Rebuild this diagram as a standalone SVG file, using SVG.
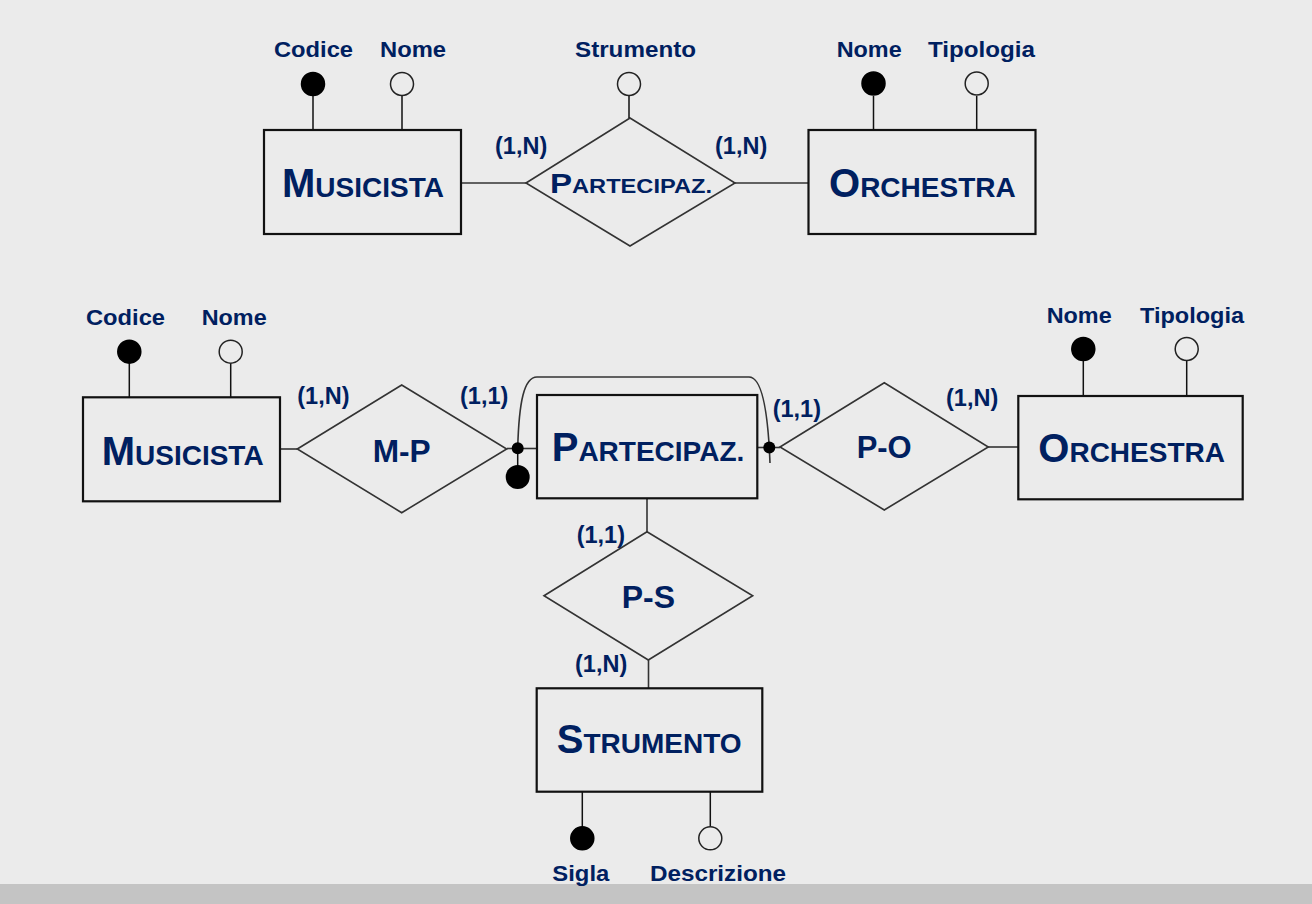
<svg xmlns="http://www.w3.org/2000/svg" width="1312" height="904" viewBox="0 0 1312 904">
<style>
.ent{fill:none;stroke:#111;stroke-width:2.2}
.rel{fill:none;stroke:#333;stroke-width:1.6}
.ln{stroke:#333;stroke-width:1.6;fill:none}
.stem{stroke:#111;stroke-width:1.5}
.key{fill:#000;stroke:#000;stroke-width:1.5}
.att{fill:none;stroke:#222;stroke-width:1.5}
text{font-family:"Liberation Sans",Arial,sans-serif;font-weight:bold;fill:#002060}
.lbl{font-size:22px}
.card{font-size:23.5px}
.ename{font-size:40px}
.sc{font-size:28px}
.rname{font-size:31px}
</style>
<rect x="0" y="0" width="1312" height="904" fill="#ebebeb"/>
<rect x="0" y="884" width="1312" height="20" fill="#c4c4c4"/>

<g id="connectors">
<line class="ln" x1="461" y1="183" x2="526" y2="183"/>
<line class="ln" x1="735" y1="183" x2="809" y2="183"/>
<line class="ln" x1="280" y1="449" x2="297" y2="449"/>
<line class="ln" x1="507" y1="448.5" x2="537" y2="448.5"/>
<line class="ln" x1="757" y1="447.5" x2="780" y2="447.5"/>
<line class="ln" x1="988" y1="447" x2="1018" y2="447"/>
<line class="ln" x1="647" y1="498" x2="647" y2="532"/>
<line class="ln" x1="648.5" y1="660" x2="648.5" y2="688"/>
<path class="ln" d="M517.7 448 C519 402 524 377 537 377 L749 377 C762 377 768 410 770 463"/>
<line class="stem" x1="517.7" y1="448" x2="517.7" y2="470"/>
<circle cx="517.7" cy="448.3" r="6" fill="#000"/>
<circle cx="517.7" cy="477" r="12" fill="#000"/>
<circle cx="769.3" cy="447.5" r="6" fill="#000"/>
<text class="card" x="495" y="154">(1,N)</text>
<text class="card" x="715" y="154">(1,N)</text>
<text class="card" x="297.3" y="404.3">(1,N)</text>
<text class="card" x="460" y="404.3">(1,1)</text>
<text class="card" x="772.7" y="416.7">(1,1)</text>
<text class="card" x="946" y="405.7">(1,N)</text>
<text class="card" x="576.7" y="543.3">(1,1)</text>
<text class="card" x="575" y="671.7">(1,N)</text>
</g>

<g id="musicista1">
<rect class="ent" x="264" y="130" width="197" height="104"/>
<line class="stem" x1="313" y1="96" x2="313" y2="130"/>
<line class="stem" x1="402" y1="96" x2="402" y2="130"/>
<circle class="key" cx="313" cy="84" r="11.5"/>
<circle class="att" cx="402" cy="84" r="11.5"/>
<text class="lbl" x="274" y="57" textLength="79" lengthAdjust="spacingAndGlyphs">Codice</text>
<text class="lbl" x="380" y="57" textLength="66" lengthAdjust="spacingAndGlyphs">Nome</text>
<text x="282" y="197"><tspan class="ename">M</tspan><tspan class="sc">USICISTA</tspan></text>
</g>

<g id="partecipaz1">
<polygon class="rel" points="526,183 630,118 735,183 630,246"/>
<line class="stem" x1="629" y1="96" x2="629" y2="118"/>
<circle class="att" cx="629" cy="84" r="11.5"/>
<text class="lbl" x="575" y="57" textLength="121" lengthAdjust="spacingAndGlyphs">Strumento</text>
<text x="550" y="193.3" textLength="162" lengthAdjust="spacingAndGlyphs"><tspan font-size="28px">P</tspan><tspan font-size="20px">ARTECIPAZ.</tspan></text>
</g>

<g id="orchestra1">
<rect class="ent" x="808.5" y="130" width="227" height="104"/>
<line class="stem" x1="873.5" y1="96" x2="873.5" y2="130"/>
<line class="stem" x1="976.7" y1="96" x2="976.7" y2="130"/>
<circle class="key" cx="873.5" cy="83.5" r="11.5"/>
<circle class="att" cx="976.7" cy="83.5" r="11.5"/>
<text class="lbl" x="836.7" y="57" textLength="65" lengthAdjust="spacingAndGlyphs">Nome</text>
<text class="lbl" x="928" y="57" textLength="107" lengthAdjust="spacingAndGlyphs">Tipologia</text>
<text x="829" y="196.7"><tspan class="ename">O</tspan><tspan class="sc">RCHESTRA</tspan></text>
</g>

<g id="musicista2">
<rect class="ent" x="83" y="397.3" width="197" height="104"/>
<line class="stem" x1="129.3" y1="363.5" x2="129.3" y2="397.3"/>
<line class="stem" x1="230.7" y1="363.5" x2="230.7" y2="397.3"/>
<circle class="key" cx="129.3" cy="351.7" r="11.5"/>
<circle class="att" cx="230.7" cy="351.7" r="11.5"/>
<text class="lbl" x="86" y="324.5" textLength="79" lengthAdjust="spacingAndGlyphs">Codice</text>
<text class="lbl" x="201.7" y="324.5" textLength="65" lengthAdjust="spacingAndGlyphs">Nome</text>
<text x="101.7" y="465"><tspan class="ename">M</tspan><tspan class="sc">USICISTA</tspan></text>
</g>

<g id="mp">
<polygon class="rel" points="297.3,449 401.7,385 506.7,449 401.7,512.7"/>
<text class="rname" x="372.7" y="461.7" textLength="58" lengthAdjust="spacingAndGlyphs">M-P</text>
</g>

<g id="partecipaz2">
<rect class="ent" x="537" y="395" width="220.3" height="103.3"/>
<text x="551.7" y="460.7"><tspan class="ename">P</tspan><tspan class="sc">ARTECIPAZ.</tspan></text>
</g>

<g id="po">
<polygon class="rel" points="780,447 884.3,382.7 988.3,447 884.3,510"/>
<text class="rname" x="856.7" y="458.3" textLength="55" lengthAdjust="spacingAndGlyphs">P-O</text>
</g>

<g id="orchestra2">
<rect class="ent" x="1018.3" y="396" width="224.4" height="103.3"/>
<line class="stem" x1="1083.3" y1="361" x2="1083.3" y2="396"/>
<line class="stem" x1="1186.7" y1="361" x2="1186.7" y2="396"/>
<circle class="key" cx="1083.3" cy="349" r="11.5"/>
<circle class="att" cx="1186.7" cy="349" r="11.5"/>
<text class="lbl" x="1046.7" y="322.5" textLength="65" lengthAdjust="spacingAndGlyphs">Nome</text>
<text class="lbl" x="1140" y="322.5" textLength="104" lengthAdjust="spacingAndGlyphs">Tipologia</text>
<text x="1038.3" y="462.3"><tspan class="ename">O</tspan><tspan class="sc">RCHESTRA</tspan></text>
</g>

<g id="ps">
<polygon class="rel" points="544,595.7 647,531.7 752.7,595.7 648.3,660"/>
<text class="rname" x="621.7" y="608.3" textLength="53.3" lengthAdjust="spacingAndGlyphs">P-S</text>
</g>

<g id="strumento">
<rect class="ent" x="536.7" y="688.3" width="225.6" height="103.4"/>
<line class="stem" x1="582.3" y1="791.7" x2="582.3" y2="826.5"/>
<line class="stem" x1="710.3" y1="791.7" x2="710.3" y2="826.5"/>
<circle class="key" cx="582.3" cy="838.3" r="11.5"/>
<circle class="att" cx="710.3" cy="838.3" r="11.5"/>
<text class="lbl" x="552.3" y="880.5" textLength="57" lengthAdjust="spacingAndGlyphs">Sigla</text>
<text class="lbl" x="650" y="880.5" textLength="136" lengthAdjust="spacingAndGlyphs">Descrizione</text>
<text x="556.7" y="753.3"><tspan class="ename">S</tspan><tspan class="sc">TRUMENTO</tspan></text>
</g>
</svg>
